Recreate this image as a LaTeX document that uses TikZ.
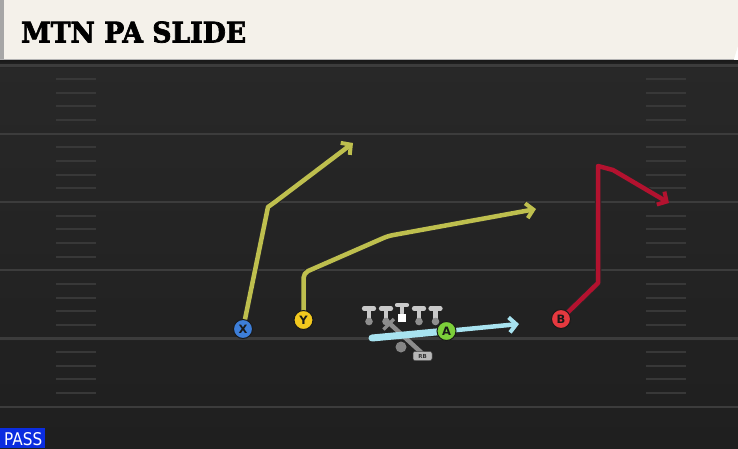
\documentclass[tikz,border=0pt]{standalone}
\usepackage{fontspec}
\setmainfont{DejaVu Sans}
\newfontfamily\titlefont[BoldFeatures={FakeBold=2.5}]{DejaVu Serif}
\usetikzlibrary{arrows.meta}
\definecolor{fieldtop}{HTML}{282828}
\definecolor{fieldbot}{HTML}{1F1F1F}
\definecolor{yardline}{HTML}{3C3C3C}
\definecolor{hashcol}{HTML}{383838}
\definecolor{cream}{HTML}{F4F1EA}
\definecolor{olive}{HTML}{BEBF4E}
\definecolor{crimson}{HTML}{B3122F}
\definecolor{skyblue}{HTML}{A8E3F0}
\definecolor{xblue}{HTML}{3D7ED8}
\definecolor{yyellow}{HTML}{F2C81E}
\definecolor{agreen}{HTML}{7CCF3A}
\definecolor{bred}{HTML}{E6393F}
\definecolor{passblue}{HTML}{0B2DE0}
\definecolor{olgray}{HTML}{C9C9C9}
\definecolor{oldark}{HTML}{8E8E8E}
\tikzset{
  x=1pt, y=-1pt,
  player/.style={circle, draw=black!90, line width=1pt, minimum size=19pt, inner sep=0pt,
    font=\fontsize{11.5}{11.5}\selectfont\bfseries, text=black!90},
  routeout/.style={draw=black!85, line width=6.5pt, line join=round, line cap=round},
  routein/.style={line width=4.5pt, line join=round, line cap=round},
  tipout/.style={-{Straight Barb[length=7pt,width=15pt,line width=6pt]}},
  tipin/.style={-{Straight Barb[length=7pt,width=15pt,line width=4pt]}},
  hash/.style={draw=hashcol, line width=2pt},
  yard/.style={draw=yardline, line width=2.2pt},
  lineman/.style={draw=olgray, line width=4.2pt, line cap=round},
}
\begin{document}
\begin{tikzpicture}
\useasboundingbox (0,0) rectangle (738,448);
% field
\shade[top color=fieldtop, bottom color=fieldbot] (0,60) rectangle (738,448);
\shade[top color=black!90, bottom color=fieldtop] (0,60) rectangle (738,68);
% yard lines
\foreach \k in {0,...,5} {
  \draw[yard] (0,{65.5+68.25*\k}) -- (738,{65.5+68.25*\k});
}
% hash marks
\foreach \j in {1,2,3,4,6,7,8,9,11,12,13,14,16,17,18,19,21,22,23,24} {
  \draw[hash] (56,{65.5+13.65*\j}) -- (96,{65.5+13.65*\j});
  \draw[hash] (646,{65.5+13.65*\j}) -- (686,{65.5+13.65*\j});
}
% title bar
\fill[cream] (0,0) -- (738,0) -- (738,46) -- (734,59) -- (0,59) -- cycle;
\fill[black!35] (0,0) rectangle (4,59);
\draw[black!30, line width=0.8pt] (0,59) -- (734,59);
\node[anchor=south west, inner sep=0pt] (title) at (21,43)
  {\resizebox{225pt}{21pt}{\titlefont\bfseries MTN PA SLIDE}};
% PASS label
\fill[passblue] (0,428) rectangle (45,448);
\node[anchor=south west, inner sep=0pt, text=white] (pass) at (4,445.5)
  {\resizebox{38pt}{13pt}{PASS}};

% player coordinates
\coordinate (px) at (243,329);
\coordinate (py) at (303.5,320);
\coordinate (pa) at (446.5,331);
\coordinate (pb) at (561,319);

% X route
\coordinate (x1) at (268,207);
\coordinate (x2) at (275,202);
\coordinate (xe) at (353,143);
\draw[routeout, tipout] (px) -- (x1) -- (x2) -- (xe);
\draw[routein, tipin, olive] (px) -- (x1) -- (x2) -- (xe);
% Y route
\coordinate (y1) at (303.5,273);
\coordinate (y2) at (388,236);
\coordinate (ye) at (536,209);
\draw[routeout, tipout, rounded corners=5pt] (py) -- (y1) -- (y2) -- (ye);
\draw[routein, tipin, olive, rounded corners=5pt] (py) -- (y1) -- (y2) -- (ye);
% B route
\coordinate (b1) at (598,283);
\coordinate (b2) at (598,166);
\coordinate (b3) at (613,170);
\coordinate (be) at (669,203);
\draw[routeout, tipout] (pb) -- (b1) -- (b2) -- (b3) -- (be);
\draw[routein, tipin, crimson] (pb) -- (b1) -- (b2) -- (b3) -- (be);

% offensive line
\foreach \xx [count=\i] in {369,386,419,435.5} {
  \draw[lineman] (\xx-5,308.5) -- (\xx+5,308.5);
  \draw[lineman] (\xx,308.5) -- (\xx,318);
  \fill[oldark] (\xx,321.5) circle (3.8pt);
}
\draw[lineman] (397,305) -- (407,305);
\draw[lineman] (402,305) -- (402,313);
\fill[white] (398,314) rectangle (406,322);

% RB
\coordinate (rb0) at (388,322);
\coordinate (rb1) at (424,355);
\draw[draw=black!45, line width=4.5pt] (rb0) -- (rb1);
\draw[draw=black!45, line width=3.5pt] (383.5,329.5) -- (394,319);
\fill[black!48] (401,347) circle (5.5pt);
\node[draw=black!70, line width=0.5pt, fill=black!28, rounded corners=2pt, minimum width=19pt, minimum height=9pt,
  inner sep=0pt, font=\fontsize{5.5}{5.5}\selectfont\bfseries, text=black!80] (rb) at (422.5,356) {RB};

% A route
\coordinate (a0) at (372,338);
\coordinate (ae) at (519,324);
\draw[skyblue, line width=7pt, line cap=round] (a0) -- (pa);
\draw[skyblue, line width=4.5pt, -{Straight Barb[length=7pt,width=15pt,line width=4pt]}] (pa) -- (ae);

% players
\node[player, fill=xblue] (X) at (px) {X};
\node[player, fill=yyellow] (Y) at (py) {Y};
\node[player, fill=agreen] (A) at (pa) {A};
\node[player, fill=bred] (B) at (pb) {B};
\end{tikzpicture}
\end{document}
